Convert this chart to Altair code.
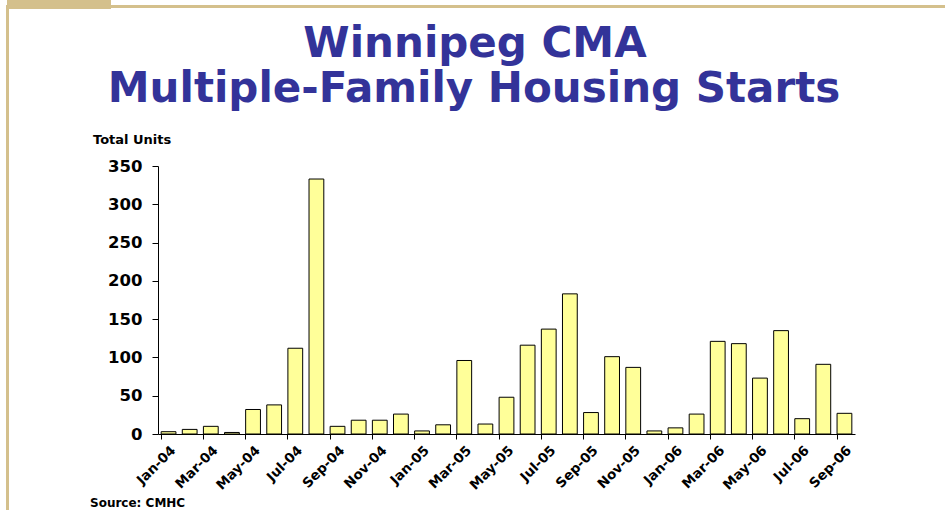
import altair as alt
import pandas as pd

months = ["Jan-04", "Feb-04", "Mar-04", "Apr-04", "May-04", "Jun-04", "Jul-04", "Aug-04",
          "Sep-04", "Oct-04", "Nov-04", "Dec-04", "Jan-05", "Feb-05", "Mar-05", "Apr-05",
          "May-05", "Jun-05", "Jul-05", "Aug-05", "Sep-05", "Oct-05", "Nov-05", "Dec-05",
          "Jan-06", "Feb-06", "Mar-06", "Apr-06", "May-06", "Jun-06", "Jul-06", "Aug-06",
          "Sep-06"]
units = [3, 6, 10, 2, 32, 38, 112, 333, 10, 18, 18, 26, 4, 12, 96, 13, 48, 116, 137,
         183, 28, 101, 87, 4, 8, 26, 121, 118, 73, 135, 20, 91, 27]
shown_labels = months[::2]
y_ticks = [0, 50, 100, 150, 200, 250, 300, 350]
title_lines = ["Winnipeg CMA", "Multiple-Family Housing Starts"]
y_title = "Total Units"
source_text = "Source: CMHC"

df = pd.DataFrame({"month": months, "units": units})

W, H = 697, 268
FONT = "DejaVu Sans"
TAN = "#d4c08c"
BLUE = "#333399"

bars = alt.Chart(df).mark_bar(
    color="#ffff99", stroke="black", strokeWidth=1
).encode(
    x=alt.X("month:N", sort=months,
            scale=alt.Scale(paddingInner=0.3, paddingOuter=0.15),
            axis=alt.Axis(title=None, values=shown_labels, labelAngle=-45,
                          bandPosition=0, labelFont=FONT, labelFontWeight="bold",
                          labelFontSize=13.5, labelColor="black", tickColor="black",
                          domainColor="black", tickSize=5, labelPadding=4,
                          labelOverlap=False)),
    y=alt.Y("units:Q", scale=alt.Scale(domain=[0, 350], nice=False),
            axis=alt.Axis(title=None, values=y_ticks, labelFont=FONT,
                          labelFontWeight="bold", labelFontSize=16.5, labelColor="black",
                          tickColor="black", domainColor="black", tickSize=6,
                          labelPadding=10, grid=False)),
)


def text_layer(txt, x, y, size, color="black", align="center"):
    return alt.Chart(pd.DataFrame({"t": [txt]})).mark_text(
        font=FONT, fontWeight="bold", fontSize=size, color=color,
        align=align, baseline="alphabetic"
    ).encode(x=alt.value(x), y=alt.value(y), text="t:N")


def rect_layer(x, x2, y, y2):
    return alt.Chart(pd.DataFrame({"a": [0]})).mark_rect(color=TAN).encode(
        x=alt.value(x), x2=alt.value(x2), y=alt.value(y), y2=alt.value(y2))


layers = [
    rect_layer(-151, -47, -166, -157),
    rect_layer(-47, 787, -161, -158),
    rect_layer(-152, -149, -161, 344),
    bars,
    text_layer(title_lines[0], 317, -109, 42, BLUE),
    text_layer(title_lines[1], 316, -64, 42, BLUE),
    text_layer(y_title, -65, -22.5, 13, align="left"),
    text_layer(source_text, -68, 341, 12, align="left"),
]

chart = alt.layer(*layers).properties(
    width=W, height=H,
    autosize=alt.AutoSizeParams(type="none"),
    padding={"left": 158, "top": 166, "right": 90, "bottom": 76},
    background="white",
).configure_view(stroke=None)

chart.save("out.html", embed_options={"renderer": "svg", "actions": False})
